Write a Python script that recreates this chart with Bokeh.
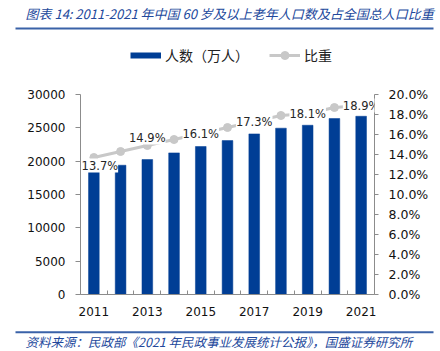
from bokeh.plotting import figure
from bokeh.layouts import column
from bokeh.models import (Range1d, LinearAxis, FixedTicker, NumeralTickFormatter,
                          ColumnDataSource, LabelSet, Legend, LegendItem)
from bokeh.core.properties import value
from bokeh.embed import file_html
from bokeh.resources import INLINE

years = [2011, 2012, 2013, 2014, 2015, 2016, 2017, 2018, 2019, 2020, 2021]
population = [18499, 19390, 20243, 21242, 22200, 23086, 24090, 24949, 25388, 26402, 26736]
share = [0.137, 0.143, 0.149, 0.155, 0.161, 0.167, 0.173, 0.179, 0.181, 0.187, 0.189]
label_years = [2011, 2013, 2015, 2017, 2019, 2021]
label_values = [0.137, 0.149, 0.161, 0.173, 0.181, 0.189]
label_texts = ["13.7%", "14.9%", "16.1%", "17.3%", "18.1%", "18.9%"]
label_dx = [6, 0, 0, 0, 0, 0]
label_dy = [-8, 8, 0, 0, 0, 0]
x_tick_labels = [2011, 2013, 2015, 2017, 2019, 2021]

title_text = "图表 14: 2011-2021 年中国 60 岁及以上老年人口数及占全国总人口比重"
source_text = "资料来源：民政部《2021 年民政事业发展统计公报》，国盛证券研究所"
legend_labels = ["人数（万人）", "比重"]

BAR = "#003E95"
GRAY = "#C8C8C8"
AXIS = "#8C8C8C"
NAVY = "#22489C"
RULE = "#3A62A8"
W = 440
HEAD_H = 80
FOOT_H = 29
MAIN_H = 351 - HEAD_H - FOOT_H
NAN = float("nan")


def blank(height, y0, y1):
    f = figure(width=W, height=height, output_backend="svg", toolbar_location=None,
               x_range=Range1d(0, W), y_range=Range1d(y0, y1),
               min_border=0, min_border_left=0, min_border_right=0,
               min_border_top=0, min_border_bottom=0,
               x_axis_location=None, y_axis_location=None, frame_align=False)
    f.outline_line_color = None
    f.grid.visible = False
    f.background_fill_color = "white"
    f.border_fill_color = "white"
    return f


# ---------- header: title, rule, legend ----------
head = blank(HEAD_H, HEAD_H, 0)
head.text(x=[25], y=[13], text=[title_text], text_font=value("Noto Sans CJK SC"),
          text_font_style="italic", text_font_size="13px", text_color=NAVY,
          text_baseline="middle", text_align="left")
head.segment(x0=[15], y0=[28], x1=[433], y1=[28], line_color=RULE, line_width=2)

dummy = ColumnDataSource(dict(x=[NAN], y=[NAN]))
dbar = head.line(x="x", y="y", source=dummy, line_color=BAR, line_width=6)
dline = head.line(x="x", y="y", source=dummy, line_color=GRAY, line_width=3)
dpts = head.scatter(x="x", y="y", source=dummy, size=8, fill_color=GRAY, line_color=GRAY)

leg = Legend(items=[LegendItem(label=legend_labels[0], renderers=[dbar]),
                    LegendItem(label=legend_labels[1], renderers=[dline, dpts])],
             location=(130, HEAD_H - 65), orientation="horizontal", padding=0, margin=0,
             spacing=20, glyph_width=31, glyph_height=20, label_height=20, label_standoff=4,
             border_line_color=None, background_fill_alpha=0,
             label_text_font="Noto Sans CJK SC", label_text_font_size="14px",
             label_text_color="#222222")
head.add_layout(leg)

# ---------- main chart ----------
p = figure(width=W, height=MAIN_H, output_backend="svg", toolbar_location=None,
           x_range=Range1d(2010.5, 2021.5), y_range=Range1d(0, 30000),
           min_border_left=80, min_border_right=66, min_border_top=14, min_border_bottom=28,
           x_axis_location=None, y_axis_location=None)
p.outline_line_color = None
p.grid.visible = False
p.background_fill_color = "white"
p.border_fill_color = "white"
p.extra_y_ranges = {"pct": Range1d(0, 0.2)}

xaxis = LinearAxis(ticker=FixedTicker(ticks=x_tick_labels,
                                      minor_ticks=[y - 0.5 for y in years] + [years[-1] + 0.5]))
xaxis.major_tick_in = 0
xaxis.major_tick_out = 0
xaxis.minor_tick_in = 4
xaxis.minor_tick_out = 0
xaxis.minor_tick_line_color = AXIS
xaxis.axis_line_color = AXIS
xaxis.major_label_standoff = 12
xaxis.major_label_text_font = "DejaVu Sans"
xaxis.major_label_text_font_size = "12px"
xaxis.major_label_text_color = "#111111"
p.add_layout(xaxis, "below")

laxis = LinearAxis(ticker=FixedTicker(ticks=list(range(0, 30001, 5000))))
laxis.major_tick_out = 5
laxis.major_tick_in = 0
laxis.minor_tick_line_color = None
laxis.axis_line_color = AXIS
laxis.major_tick_line_color = AXIS
laxis.major_label_standoff = 10
laxis.major_label_text_font = "DejaVu Sans"
laxis.major_label_text_font_size = "12px"
laxis.major_label_text_color = "#111111"
p.add_layout(laxis, "left")

raxis = LinearAxis(y_range_name="pct", ticker=FixedTicker(ticks=[i / 100 for i in range(0, 21, 2)]),
                   formatter=NumeralTickFormatter(format="0.0%"))
raxis.major_tick_out = 4
raxis.major_tick_in = 0
raxis.minor_tick_line_color = None
raxis.axis_line_color = AXIS
raxis.major_tick_line_color = AXIS
raxis.major_label_standoff = 10
raxis.major_label_text_font = "DejaVu Sans"
raxis.major_label_text_font_size = "12.5px"
raxis.major_label_text_color = "#111111"
p.add_layout(raxis, "right")

src = ColumnDataSource(dict(x=years, pop=population, share=share))
p.vbar(x="x", top="pop", width=0.4, source=src, fill_color=BAR, line_color=BAR, line_width=0.5)
p.line(x="x", y="share", source=src, y_range_name="pct", line_color=GRAY, line_width=3)
p.scatter(x="x", y="share", source=src, y_range_name="pct", size=8, fill_color=GRAY, line_color=GRAY)

lsrc = ColumnDataSource(dict(x=label_years, y=label_values, t=label_texts, dx=label_dx, dy=label_dy))
labels = LabelSet(x="x", y="y", text="t", x_offset="dx", y_offset="dy", source=lsrc, y_range_name="pct",
                  text_align="center", text_baseline="middle", text_font=value("DejaVu Sans"),
                  text_font_size=value("11.5px"), text_color="#262626", background_fill_color="white")
p.add_layout(labels)

# ---------- footer: rule + source ----------
foot = blank(FOOT_H, 351, 351 - FOOT_H)
foot.segment(x0=[15], y0=[331.7], x1=[433], y1=[331.7], line_color=RULE, line_width=2)
foot.text(x=[25], y=[341], text=[source_text], text_font=value("Noto Sans CJK SC"),
          text_font_style="italic", text_font_size="12.5px", text_color=NAVY,
          text_baseline="middle", text_align="left")

layout = column(head, p, foot, spacing=0)
open("out.html", "w").write(file_html(layout, INLINE))
